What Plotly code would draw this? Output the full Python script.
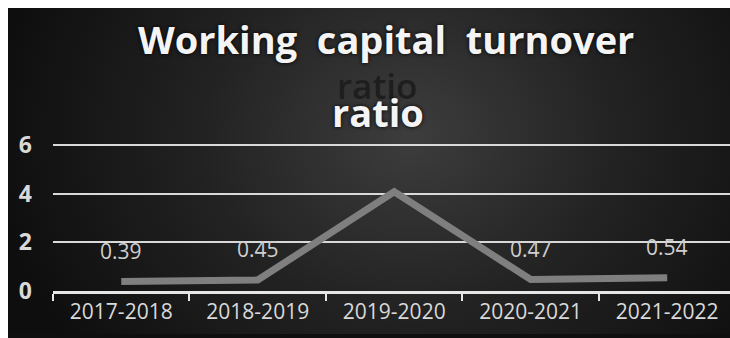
import base64
import plotly.graph_objects as go

# Working capital turnover ratio by financial year
years = ["2017-2018", "2018-2019", "2019-2020", "2020-2021", "2021-2022"]
ratio = [0.39, 0.45, 4.08, 0.47, 0.54]
y_ticks = [0, 2, 4, 6]

W, H = 730, 334          # page adds a few px below the figure
L, R, T, B = 53, 0, 143, 43
PW, PH = W - L - R, H - T - B
Y_TOP = 6 * PH / (H - B - 145)  # leave room so the 6 gridline is drawn


def px(x):
    """pixel column -> paper x"""
    return (x - L) / PW


def py(y):
    """pixel row -> paper y"""
    return (H - B - y) / PH


FONT = "Open Sans"

fig = go.Figure()

fig.add_trace(go.Scatter(
    x=years, y=ratio, mode="lines",
    line=dict(color="#7f7f7f", width=7),
    hoverinfo="skip", showlegend=False,
))

# value labels above each point; the peak label sinks into the background
for yr, v in zip(years, ratio):
    col = "rgba(60,60,60,0.35)" if v > 2 else "#cfcfcf"
    fig.add_annotation(
        x=yr, y=v, text=f"{v:.2f}", showarrow=False,
        yanchor="middle", yshift=31,
        font=dict(family=FONT, size=21, color=col),
    )

# dark radial-gradient panel behind the chart
svg = (
    '<svg xmlns="http://www.w3.org/2000/svg" width="740" height="340" '
    'preserveAspectRatio="none" viewBox="0 0 740 340">'
    '<defs><radialGradient id="g" gradientUnits="userSpaceOnUse" '
    'cx="410" cy="135" r="420" '
    'gradientTransform="translate(410 135) scale(1 0.85) translate(-410 -135)">'
    '<stop offset="0" stop-color="#3d3d3d"/>'
    '<stop offset="0.5" stop-color="#222222"/>'
    '<stop offset="1" stop-color="#0e0e0e"/>'
    '</radialGradient></defs>'
    '<rect width="740" height="340" fill="url(#g)"/></svg>'
)
src = "data:image/svg+xml;base64," + base64.b64encode(svg.encode()).decode()
fig.add_layout_image(
    source=src, xref="paper", yref="paper",
    x=px(0), y=py(0), sizex=px(740) - px(0), sizey=py(0) - py(340),
    xanchor="left", yanchor="top", sizing="stretch", layer="below",
)

# white frame strips along the top and left edges
for x0, y0, x1, y1 in [(0, 0, 740, 8), (0, 0, 8, 340)]:
    fig.add_shape(
        type="rect", xref="paper", yref="paper",
        x0=px(x0), x1=px(x1), y0=py(y0), y1=py(y1),
        fillcolor="#ffffff", line_width=0, layer="above",
    )

# title, with its faint duplicate second line
title_font = dict(family=FONT, size=38, color="#f4f4f4", weight="bold",
                  shadow="0px 0px 4px #000000")
fig.add_annotation(
    xref="paper", yref="paper", x=px(386), y=py(39),
    text="Working&nbsp; capital&nbsp; turnover", showarrow=False,
    xanchor="center", yanchor="middle", font=title_font,
)
fig.add_annotation(
    xref="paper", yref="paper", x=px(377), y=py(85),
    text="ratio", showarrow=False, xanchor="center", yanchor="middle",
    font=dict(family=FONT, size=35, color="#1e1e1e", weight=600),
)
fig.add_annotation(
    xref="paper", yref="paper", x=px(378), y=py(112),
    text="ratio", showarrow=False, xanchor="center", yanchor="middle",
    font=title_font,
)

fig.update_xaxes(
    type="category", range=[-0.5, 4.46],
    showgrid=False, showline=True, linecolor="#e6e6e6", linewidth=3,
    ticks="outside", tickson="boundaries", ticklen=7, tickwidth=2,
    tickcolor="#e6e6e6",
    tickfont=dict(family=FONT, size=21, color="#d9d9d9"),
    fixedrange=True,
)
fig.update_yaxes(
    range=[0, Y_TOP], tickvals=y_ticks, ticktext=[str(t) for t in y_ticks],
    showgrid=True, gridcolor="#d9d9d9", gridwidth=2,
    zeroline=False, showline=False, ticks="",
    ticklabelstandoff=20,
    tickfont=dict(family=FONT, size=23, color="#d9d9d9", weight="bold"),
    fixedrange=True,
)

fig.update_layout(
    width=W, height=H,
    margin=dict(l=L, r=R, t=T, b=B, pad=0),
    paper_bgcolor="#101010", plot_bgcolor="rgba(0,0,0,0)",
    showlegend=False,
)

# page background continues the panel's dark edge below the figure
page_js = (
    "document.documentElement.style.overflow='hidden';"
    "document.body.style.overflow='hidden';"
    "document.body.style.margin='0';"
    "document.documentElement.style.background="
    "'linear-gradient(to right,#ffffff 0,#ffffff 8px,#0f0f0f 8px)';"
    "document.body.style.background='transparent';"
)
fig.write_html("out.html", config={"displayModeBar": False},
               post_script=page_js)
